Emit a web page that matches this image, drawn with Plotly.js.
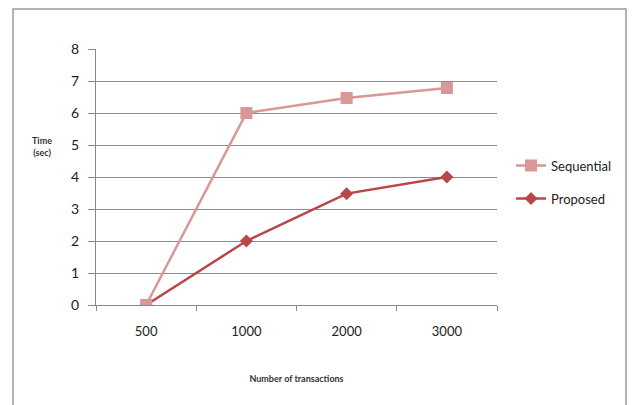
<!DOCTYPE html>
<html><head><meta charset="utf-8">
<script src="https://cdn.plot.ly/plotly-3.0.1.min.js"></script>
<style>html,body{margin:0;padding:0;background:#fff;}#chart{width:632px;height:405px;}</style>
</head><body><div id="chart"></div>
<script>
var categories = ["500", "1000", "2000", "3000"];
var sequential = [0, 6, 6.47, 6.78];
var proposed = [0, 2, 3.48, 4];
var yTicks = [0, 1, 2, 3, 4, 5, 6, 7, 8];

var traces = [
  {x: categories, y: proposed, name: "Proposed", type: "scatter", mode: "lines+markers", legendgroup: "p", legendrank: 2,
   line: {color: "#B9474A", width: 2.5}, marker: {symbol: "diamond", size: 10, color: "#B9474A"}},
  {x: categories, y: sequential, name: "Sequential", type: "scatter", mode: "lines+markers", legendgroup: "s", legendrank: 1,
   line: {color: "#D99795", width: 2.5}, marker: {symbol: "square", size: 12, color: "#D99795"}}
];

var layout = {
  width: 632, height: 405,
  margin: {l: 96, r: 135, t: 49, b: 100},
  paper_bgcolor: "#fff", plot_bgcolor: "#fff",
  font: {family: "Lato, 'Open Sans', sans-serif", color: "#222"},
  showlegend: true,
  legend: {x: 1.035, y: 0.48, xanchor: "left", yanchor: "middle", font: {size: 13, color: "#222"},
           bgcolor: "rgba(0,0,0,0)", tracegroupgap: 13, traceorder: "grouped", itemwidth: 30},
  xaxis: {type: "category", tickson: "boundaries", ticks: "outside", ticklen: 5, tickcolor: "#888",
          showline: true, linecolor: "#888", linewidth: 1, showgrid: false, zeroline: false,
          tickfont: {size: 13, color: "#222"}, range: [-0.5, 3.5], ticklabelstandoff: 14,
          title: {text: "<b>Number of transactions</b>", font: {size: 9, color: "#333"}, standoff: 38}},
  yaxis: {range: [0, 8], tickvals: yTicks, ticks: "outside", ticklen: 7, tickcolor: "#888",
          showline: true, linecolor: "#888", linewidth: 1, showgrid: true, gridcolor: "#8c8c8c", gridwidth: 1,
          zeroline: false, tickfont: {size: 14, color: "#222"}, ticklabelstandoff: 6},
  annotations: [
    {text: "<b>Time<br>(sec)</b>", xref: "paper", yref: "paper", x: -0.135, y: 0.62,
     xanchor: "center", yanchor: "middle", showarrow: false, font: {size: 9, color: "#333"}}
  ],
  shapes: [
    {type: "rect", xref: "paper", yref: "paper", x0: -0.207, x1: 1.3217, y0: -0.45, y1: 1.156,
     line: {color: "#999", width: 1.5}, fillcolor: "rgba(0,0,0,0)", layer: "below"}
  ]
};

Plotly.newPlot("chart", traces, layout, {displayModeBar: false, staticPlot: true});
</script></body></html>
